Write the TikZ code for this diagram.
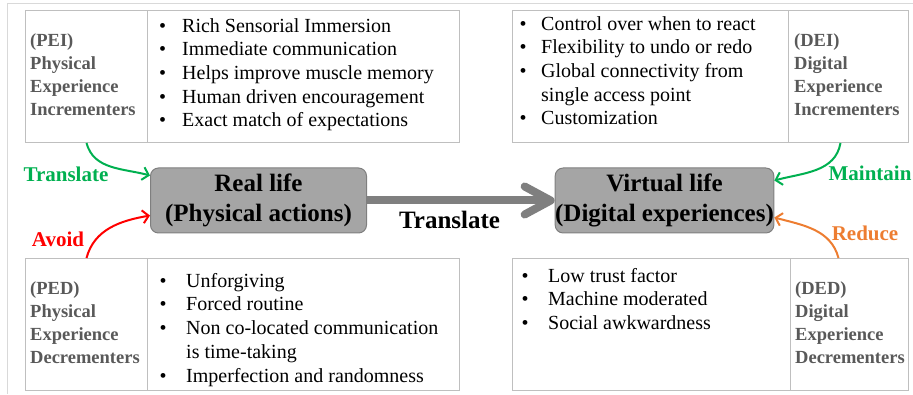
\documentclass[tikz,border=0pt]{standalone}
\usepackage{fontspec}
\setmainfont{Liberation Serif}
\usetikzlibrary{arrows.meta}
\definecolor{cellgray}{HTML}{BFBFBF}
\definecolor{framegray}{HTML}{D9D9D9}
\definecolor{lblgray}{HTML}{595959}
\definecolor{boxfill}{HTML}{A5A5A5}
\definecolor{boxedge}{HTML}{7F7F7F}
\definecolor{arrgray}{HTML}{7F7F7F}
\definecolor{tgreen}{HTML}{00B050}
\definecolor{tred}{HTML}{FF0000}
\definecolor{torange}{HTML}{ED7D31}
\newcommand{\itm}[2][22pt]{\makebox[#1][l]{\textbullet}#2}
\tikzset{
    cell/.style={draw=cellgray,line width=1pt,anchor=north west,minimum height=132pt,inner sep=0pt},
    lbl/.style={anchor=west,inner sep=0pt,align=left,text=lblgray,font=\fontsize{18.5}{23}\selectfont\bfseries},
    lst/.style={anchor=north west,inner sep=0pt,align=left,font=\fontsize{20}{23.7}\selectfont},
    life/.style={draw=boxedge,fill=boxfill,line width=1pt,rounded corners=8pt,minimum width=216pt,minimum height=65pt,inner sep=0pt,align=center,font=\fontsize{25}{30}\selectfont\bfseries},
    tag/.style={inner sep=0pt,font=\fontsize{21}{24}\selectfont\bfseries},
    curv/.style={line width=2pt,-{Straight Barb[length=6pt,width=13pt]}}
}
\begin{document}
        \begin{tikzpicture}[x=1pt,y=1pt]
            \useasboundingbox (0,0) rectangle (913,394);
            \draw[framegray,line width=1pt] (7,0) -- (7,390) -- (913,390);
            \node (peil) at (25,384) [cell,minimum width=122pt] {};
            \node (peis) at (147,384) [cell,minimum width=312pt] {};
            \node (deis) at (512,384) [cell,minimum width=276pt] {};
            \node (deil) at (788,384) [cell,minimum width=120pt] {};
            \node (pedl) at (25,136) [cell,minimum width=122pt] {};
            \node (peds) at (147,136) [cell,minimum width=312pt] {};
            \node (deds) at (512,136) [cell,minimum width=278pt] {};
            \node (dedl) at (790,136) [cell,minimum width=118pt] {};
            \node (peit) at ([xshift=5pt,yshift=2pt]peil.west) [lbl] {(PEI)\\Physical\\Experience\\Incrementers};
            \node (deit) at ([xshift=6pt,yshift=2pt]deil.west) [lbl] {(DEI)\\Digital\\Experience\\Incrementers};
            \node (pedt) at ([xshift=5pt,yshift=2pt]pedl.west) [lbl] {(PED)\\Physical\\Experience\\Decrementers};
            \node (dedt) at ([xshift=5pt,yshift=2pt]dedl.west) [lbl] {(DED)\\Digital\\Experience\\Decrementers};
            \node (peil1) at ([xshift=12pt,yshift=-8pt]peis.north west) [lst] {\itm[23pt]{Rich Sensorial Immersion}\\\itm[23pt]{Immediate communication}\\\itm[23pt]{Helps improve muscle memory}\\\itm[23pt]{Human driven encouragement}\\\itm[23pt]{Exact match of expectations}};
            \node (deil1) at ([xshift=7.5pt,yshift=-6pt]deis.north west) [lst] {\itm[21.5pt]{Control over when to react}\\\itm[21.5pt]{Flexibility to undo or redo}\\\itm[21.5pt]{Global connectivity from}\\\hspace*{21.5pt}single access point\\\itm[21.5pt]{Customization}};
            \node (pedl1) at ([xshift=12.5pt,yshift=-15pt]peds.north west) [lst] {\itm[26.5pt]{Unforgiving}\\\itm[26.5pt]{Forced routine}\\\itm[26.5pt]{Non co-located communication}\\\hspace*{26.5pt}is time-taking\\\itm[26.5pt]{Imperfection and randomness}};
            \node (dedl1) at ([xshift=9.5pt,yshift=-10pt]deds.north west) [lst] {\itm[26.5pt]{Low trust factor}\\\itm[26.5pt]{Machine moderated}\\\itm[26.5pt]{Social awkwardness}};
            \node (real) at (258.5,193.5) [life] {Real life\\(Physical actions)};
            \node (virt) at (664.5,193.5) [life] {Virtual life\\(Digital experiences)};
            \draw[arrgray,line width=8pt,-{Straight Barb[length=26pt,width=28pt,round]}] (real) -- node (trm) [pos=0.44,below=7pt,tag,text=black,font=\fontsize{25}{30}\selectfont\bfseries] {Translate} (virt);
            \draw[curv,tgreen] (peil.south) to[out=-75,in=165] ([yshift=25pt]real.west);
            \draw[curv,tred] (pedl.north) to[out=75,in=190] ([yshift=-15pt]real.west);
            \draw[curv,tgreen] ([xshift=-8pt]deil.south) to[out=-100,in=15] ([yshift=20pt]virt.east);
            \draw[curv,torange] ([xshift=-11pt]dedl.north) to[out=105,in=-15] ([yshift=-17pt]virt.east);
            \node (tgtr) at (66,220) [tag,tgreen] {Translate};
            \node (tgav) at (58,155) [tag,tred] {Avoid};
            \node (tgma) at (870,221) [tag,tgreen] {Maintain};
            \node (tgre) at (865,161) [tag,torange] {Reduce};
        \end{tikzpicture}
\end{document}
